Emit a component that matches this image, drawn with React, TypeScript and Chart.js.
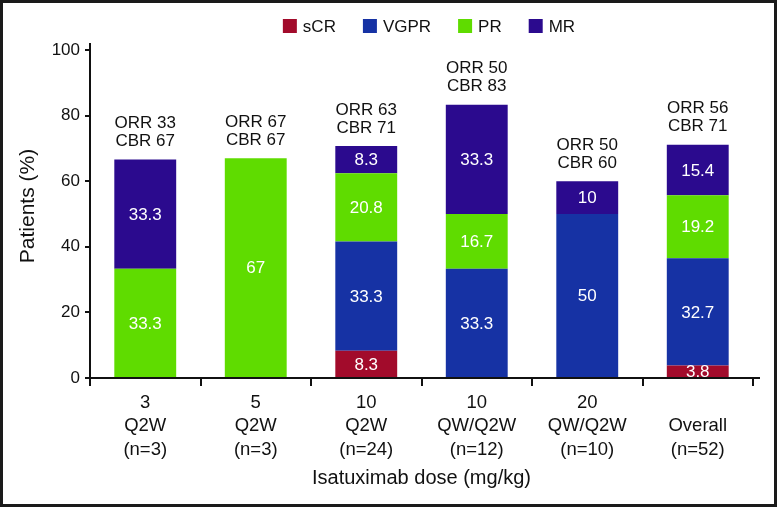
import { useEffect, useRef } from "react";
import { Chart, registerables } from "chart.js";

Chart.register(...registerables);

const categories = [
  ["3", "Q2W", "(n=3)"],
  ["5", "Q2W", "(n=3)"],
  ["10", "Q2W", "(n=24)"],
  ["10", "QW/Q2W", "(n=12)"],
  ["20", "QW/Q2W", "(n=10)"],
  ["", "Overall", "(n=52)"],
];
const sCR = [null, null, 8.3, null, null, 3.8];
const VGPR = [null, null, 33.3, 33.3, 50, 32.7];
const PR = [33.3, 67, 20.8, 16.7, null, 19.2];
const MR = [33.3, null, 8.3, 33.3, 10, 15.4];
const ORR = [33, 67, 63, 50, 50, 56];
const CBR = [67, 67, 71, 83, 60, 71];
const seriesNames = ["sCR", "VGPR", "PR", "MR"];
const seriesColors = ["#A20B2B", "#1632A4", "#5FDC00", "#2B0A8E"];
const yTitle = "Patients (%)";
const xTitle = "Isatuximab dose (mg/kg)";

const FONT = '"Liberation Sans Narrow", "Liberation Sans", Arial, sans-serif';
const INK = "#111111";

const annotatePlugin = {
  id: "annotate",
  afterDatasetsDraw(chart: any) {
    const ctx = chart.ctx;
    const xs = chart.scales.x;
    const ys = chart.scales.y;
    const area = chart.chartArea;
    ctx.save();
    // axis extensions
    ctx.strokeStyle = INK;
    ctx.lineWidth = 2;
    ctx.beginPath();
    ctx.moveTo(area.right - 1, area.bottom);
    ctx.lineTo(area.right + 7, area.bottom);
    ctx.moveTo(area.left, area.top + 1);
    ctx.lineTo(area.left, area.top - 7);
    ctx.stroke();
    // segment values
    ctx.font = `17px ${FONT}`;
    ctx.fillStyle = "#ffffff";
    ctx.textAlign = "center";
    ctx.textBaseline = "middle";
    chart.data.datasets.forEach((ds: any, di: number) => {
      const meta = chart.getDatasetMeta(di);
      meta.data.forEach((bar: any, i: number) => {
        const v = ds.data[i];
        if (v === null || v === undefined) return;
        const yc = (bar.y + bar.base) / 2;
        ctx.fillText(String(v), bar.x, yc + 1);
      });
    });
    // ORR / CBR above bars
    ctx.fillStyle = INK;
    ctx.font = `17px ${FONT}`;
    categories.forEach((_, i) => {
      let total = 0;
      [sCR, VGPR, PR, MR].forEach((arr) => {
        const v = arr[i];
        if (v !== null) total += v as number;
      });
      const x = xs.getPixelForValue(i);
      const y = ys.getPixelForValue(total);
      ctx.fillText(`ORR ${ORR[i]}`, x, y - 36);
      ctx.fillText(`CBR ${CBR[i]}`, x, y - 18);
    });
    // y title
    ctx.save();
    ctx.translate(25, 203);
    ctx.rotate(-Math.PI / 2);
    ctx.font = `21px ${FONT}`;
    ctx.fillText(yTitle, 0, 0);
    ctx.restore();
    // legend
    ctx.font = `17px ${FONT}`;
    ctx.textAlign = "left";
    const box = 14;
    const gapBox = 6;
    const gapItem = 27;
    const widths = seriesNames.map((n) => box + gapBox + ctx.measureText(n).width);
    const total = widths.reduce((a, b) => a + b, 0) + gapItem * (seriesNames.length - 1);
    let lx = 426 - total / 2;
    const ly = 23;
    seriesNames.forEach((n, k) => {
      ctx.fillStyle = seriesColors[k];
      ctx.fillRect(lx, ly - box / 2, box, box);
      ctx.fillStyle = INK;
      ctx.fillText(n, lx + box + gapBox, ly + 1);
      lx += widths[k] + gapItem;
    });
    ctx.restore();
  },
};

export default function App() {
  const ref = useRef<HTMLCanvasElement>(null);
  useEffect(() => {
    if (!ref.current) return;
    const datasets = [sCR, VGPR, PR, MR].map((d, k) => ({
      label: seriesNames[k],
      data: d,
      backgroundColor: seriesColors[k],
      borderWidth: 0,
      barPercentage: 0.56,
      categoryPercentage: 1,
    }));
    const chart = new Chart(ref.current, {
      type: "bar",
      data: { labels: categories, datasets },
      options: {
        animation: false,
        responsive: false,
        maintainAspectRatio: false,
        layout: { padding: { top: 47, right: 21, left: 0, bottom: 0 } },
        plugins: { legend: { display: false }, tooltip: { enabled: false } },
        scales: {
          x: {
            stacked: true,
            offset: true,
            grid: {
              offset: true,
              drawOnChartArea: false,
              drawTicks: true,
              tickLength: 8,
              tickColor: INK,
              lineWidth: 2,
            },
            border: { display: true, color: INK, width: 2 },
            ticks: {
              color: INK,
              font: { family: FONT, size: 18.5, lineHeight: 1.27 },
              padding: 5,
              maxRotation: 0,
              autoSkip: false,
            },
            title: {
              display: true,
              text: xTitle,
              color: INK,
              font: { family: FONT, size: 20, lineHeight: 1.2 },
              padding: { top: 0, bottom: 14 },
            },
            afterFit: (s: any) => {
              s.height = 126;
            },
          },
          y: {
            stacked: true,
            min: 0,
            max: 100,
            grid: {
              drawOnChartArea: false,
              drawTicks: true,
              tickLength: 5,
              tickColor: INK,
              lineWidth: 2,
            },
            border: { display: true, color: INK, width: 2 },
            ticks: {
              stepSize: 20,
              color: INK,
              font: { family: FONT, size: 17 },
              padding: 5,
            },
            title: { display: false },
            afterFit: (s: any) => {
              s.width = 87;
            },
          },
        },
      },
      plugins: [annotatePlugin],
    });
    return () => chart.destroy();
  }, []);
  return (
    <div
      style={{
        position: "fixed",
        left: 0,
        top: 0,
        width: 777,
        height: 507,
        boxSizing: "border-box",
        border: "3px solid #1a1a1a",
        background: "#ffffff",
      }}
    >
      <canvas ref={ref} width={771} height={501} style={{ display: "block" }} />
    </div>
  );
}
